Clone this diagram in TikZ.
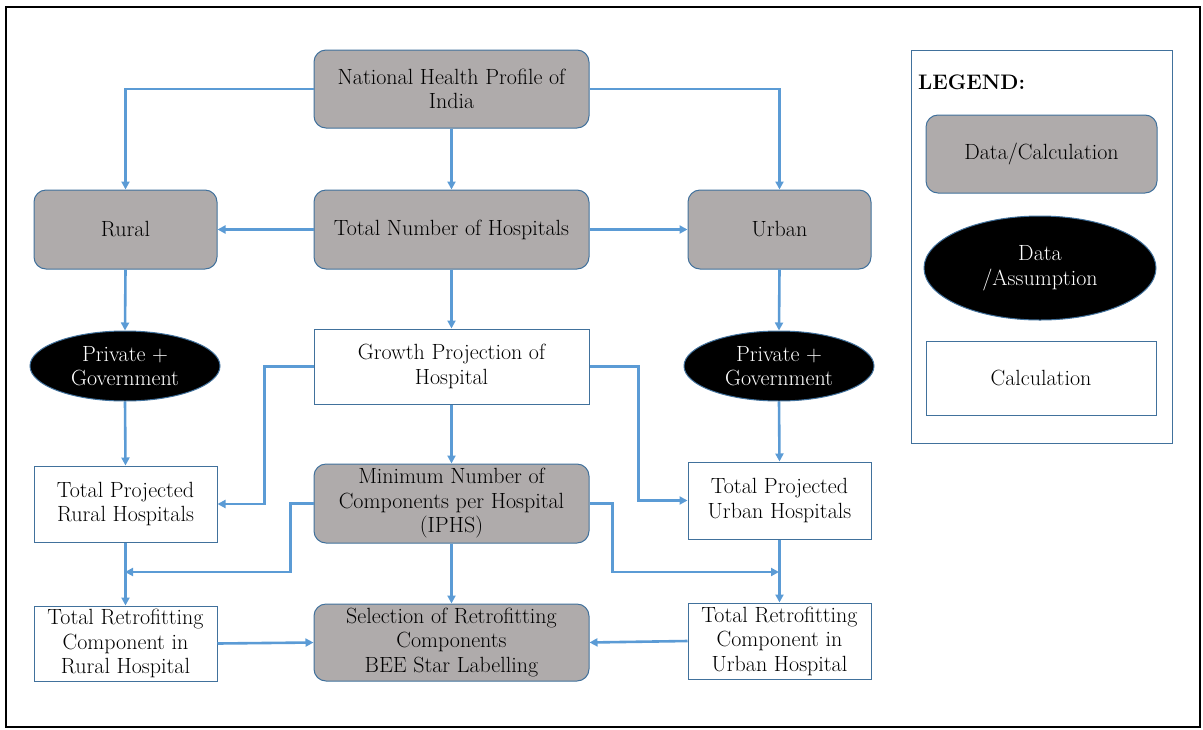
\documentclass[tikz,border=0pt]{standalone}
\usepackage{fontspec}
\usetikzlibrary{arrows.meta,shapes.geometric}
\definecolor{boxgray}{RGB}{175,171,171}
\definecolor{boxedge}{RGB}{65,113,156}
\definecolor{arrblue}{RGB}{91,155,213}
\tikzset{
  base/.style={draw=boxedge, line width=1pt, align=center, inner sep=2pt,
    font=\fontsize{22}{24.5}\selectfont, text=black},
  datacalc/.style={base, fill=boxgray, rounded corners=12pt},
  calc/.style={base, fill=white},
  assume/.style={base, ellipse, fill=black, text=white, inner sep=0pt},
  arr/.style={draw=arrblue, line width=2.6pt, -{Triangle[length=8pt,width=8pt]}},
}
\begin{document}
\begin{tikzpicture}[x=1pt,y=-1pt]
\useasboundingbox (0,0) rectangle (1203,729);
\draw[line width=2.5pt, black] (6,7) rectangle (1200,727);

% main column
\node[datacalc, minimum width=275pt, minimum height=78pt] (nhp) at (451.5,89) {National Health Profile of\\India};
\node[datacalc, minimum width=183pt, minimum height=79pt] (rural) at (125.5,229.5) {Rural};
\node[datacalc, minimum width=275pt, minimum height=79pt] (tnh) at (451.5,229.5) {Total Number of Hospitals};
\node[datacalc, minimum width=183pt, minimum height=79pt] (urban) at (779.5,229.5) {Urban};

\node[assume, minimum width=190pt, minimum height=70pt] (pgl) at (125,366) {Private +\\Government};
\node[calc, minimum width=275pt, minimum height=75pt] (gp) at (451.5,366.5) {Growth Projection of\\Hospital};
\node[assume, minimum width=190pt, minimum height=70pt] (pgr) at (779,366) {Private +\\Government};

\node[calc, minimum width=183pt, minimum height=76pt] (tpr) at (125.5,504) {Total Projected\\Rural Hospitals};
\node[datacalc, minimum width=275pt, minimum height=79pt, inner sep=0pt] (mnc) at (451.5,503.5) {Minimum Number of\\Components per Hospital\\(IPHS)};
\node[calc, minimum width=183pt, minimum height=77pt] (tpu) at (779.5,500.5) {Total Projected\\Urban Hospitals};

\node[calc, minimum width=183pt, minimum height=75pt, inner sep=0pt] (trr) at (125.5,643.5) {Total Retrofitting\\Component in\\Rural Hospital};
\node[datacalc, minimum width=275pt, minimum height=77pt, inner sep=0pt] (sel) at (451.5,642.5) {Selection of Retrofitting\\Components\\BEE Star Labelling};
\node[calc, minimum width=183pt, minimum height=76pt, inner sep=0pt] (tru) at (779.5,641) {Total Retrofitting\\Component in\\Urban Hospital};

\coordinate (jl) at (125,572);
\coordinate (jr) at (779,572);

% connectors
\draw[arr] (nhp.west) -| (rural.north);
\draw[arr] (nhp.east) -| (urban.north);
\draw[arr] (nhp.south) -- (tnh.north);
\draw[arr] (tnh.west) -- (rural.east);
\draw[arr] (tnh.east) -- (urban.west);
\draw[arr] (tnh.south) -- (gp.north);
\draw[arr] (rural.south) -- (pgl.north);
\draw[arr] (urban.south) -- (pgr.north);
\draw[arr] (pgl.south) -- (tpr.north);
\draw[arr] (pgr.south) -- (tpu.north);
\draw[arr] (gp.west) -- ++(-49,0) |- (tpr.east);
\draw[arr] (gp.east) -- ++(49,0) |- (tpu.west);
\draw[arr] (gp.south) -- (mnc.north);
\draw[arr] (mnc.west) -- ++(-23,0) |- (jl);
\draw[arr] (mnc.east) -- ++(23,0) |- (jr);
\draw[arr] (tpr.south) -- (trr.north);
\draw[arr] (tpu.south) -- (tru.north);
\draw[arr] (mnc.south) -- (sel.north);
\draw[arr] (trr.east) -- (sel.west);
\draw[arr] (tru.west) -- (sel.east);

% legend
\node[draw=boxedge, line width=1pt, minimum width=261pt, minimum height=393pt, inner sep=0pt] (legend) at (1041.5,246.5) {};
\node[anchor=west, font=\fontsize{21}{24}\selectfont\bfseries, inner sep=0pt] (legtitle) at (918,82) {LEGEND:};
\node[datacalc, minimum width=231pt, minimum height=78pt] (l1) at (1041.5,154) {Data/Calculation};
\node[assume, minimum width=232pt, minimum height=104pt] (l2) at (1040,268) {Data\\/Assumption};
\node[calc, minimum width=230pt, minimum height=74pt] (l3) at (1041,378) {Calculation};
\end{tikzpicture}
\end{document}
